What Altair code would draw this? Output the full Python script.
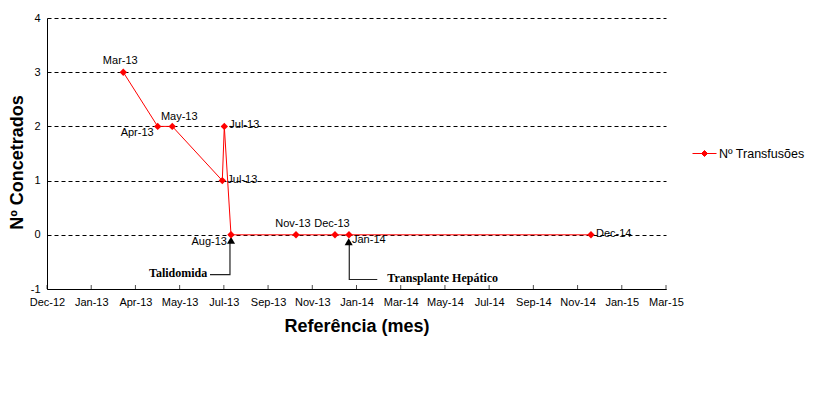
import json
import pandas as pd
import altair as alt

# ---------------- data ----------------
point_labels = ["Mar-13", "Apr-13", "May-13", "Jul-13", "Jul-13",
                "Aug-13", "Nov-13", "Dec-13", "Jan-14", "Dec-14"]
# position on the date axis, in days after the first tick (Dec-12)
point_days = [103.5, 150.2, 170.0, 237.9, 240.6, 249.7, 337.9, 390.8, 409.8, 738.2]
transfusions = [3, 2, 2, 1, 2, 0, 0, 0, 0, 0]
series_name = "Nº Transfusões"

tick_days = [0, 60, 120, 180, 240, 300, 360, 420, 480, 540, 600, 660, 720, 780, 840]
tick_labels = ["Dec-12", "Jan-13", "Apr-13", "May-13", "Jul-13", "Sep-13", "Nov-13",
               "Jan-14", "Mar-14", "May-14", "Jul-14", "Sep-14", "Nov-14", "Jan-15", "Mar-15"]
y_ticks = [-1, 0, 1, 2, 3, 4]

# annotations (event markers)
ann_names = ["Talidomida", "Transplante Hepático"]
ann_text_days = [217.5, 461.8]
ann_text_vals = [-0.714, -0.80]
ann_arrow_days = [249.7, 409.4]
ann_arrow_vals = [-0.10, -0.13]
ann_leader_days = [[221.2, 248.3, 248.3], [448.2, 410.2, 410.2]]
ann_leader_vals = [[-0.733, -0.733, -0.14], [-0.825, -0.825, -0.17]]

# ---------------- tables ----------------
pts = pd.DataFrame({
    "idx": list(range(len(point_days))),
    "day": point_days,
    "val": transfusions,
    "lab": point_labels,
    "serie": [series_name] * len(point_days),
})
ticks_df = pd.DataFrame({"day": tick_days})
ann_text_df = pd.DataFrame({"name": ann_names, "day": ann_text_days, "val": ann_text_vals})
ann_arrow_df = pd.DataFrame({"day": ann_arrow_days, "val": ann_arrow_vals})
leader_rows = []
for k, (ds, vs) in enumerate(zip(ann_leader_days, ann_leader_vals)):
    for j, (d, v) in enumerate(zip(ds, vs)):
        leader_rows.append({"ann": k, "ord": j, "day": d, "val": v})
leader_df = pd.DataFrame(leader_rows)

FONT = "Liberation Sans"
RED = "#FF0000"

xscale = alt.Scale(domain=[0, 840], nice=False, zero=False)
yscale = alt.Scale(domain=[-1, 4], nice=False, zero=False)

label_expr = json.dumps(tick_labels) + "[round(datum.value / 60)]"

x_enc = alt.X("day:Q", scale=xscale, axis=alt.Axis(
    values=tick_days, labelExpr=label_expr, ticks=False, grid=False,
    title="Referência (mes)", titleFont=FONT, titleFontSize=18, titleFontWeight="bold",
    titleColor="black", titleX=309.5, titleY=37, titleBaseline="middle",
    labelFont=FONT, labelFontSize=11, labelColor="black", labelPadding=7,
    domainColor="black", labelFlush=False, labelOverlap=False))
y_enc = alt.Y("val:Q", scale=yscale, axis=alt.Axis(
    values=y_ticks, ticks=False, grid=True, gridColor="black", gridDash=[4, 3],
    gridWidth=1, title="Nº Concetrados", titleFont=FONT, titleFontSize=18,
    titleFontWeight="bold", titleColor="black", titleX=-30, titleY=144,
    titleBaseline="middle", titleAngle=270,
    labelExpr="datum.value < 0 ? '-' + format(-datum.value, 'd') : datum.label",
    labelFont=FONT, labelFontSize=11, labelColor="black", labelPadding=7,
    domainColor="black"))

base = alt.Chart(pts)

line = base.mark_line(strokeWidth=1).encode(
    x=x_enc, y=y_enc, order="idx:Q",
    color=alt.Color("serie:N", scale=alt.Scale(domain=[series_name], range=[RED]),
                    legend=alt.Legend(
                        title=None, orient="none", legendX=645, legendY=123,
                        padding=0, labelFont=FONT, labelFontSize=12.5, labelColor="black",
                        labelOffset=2,
                        symbolType="M-1,0L1,0M-0.25,0L0,-0.25L0.25,0L0,0.25Z",
                        symbolSize=576, symbolStrokeWidth=1,
                        symbolFillColor=RED, symbolStrokeColor=RED)))

points = base.mark_point(shape="diamond", filled=True, size=55, color=RED, opacity=1).encode(
    x="day:Q", y="val:Q")

# label placements (style only)
placements = [
    ([0, 6, 7], dict(align="center", baseline="middle", dx=-3, dy=-11)),
    ([2], dict(align="center", baseline="middle", dx=7, dy=-9)),
    ([1, 5], dict(align="right", baseline="middle", dx=-4, dy=7)),
    ([3, 4, 9], dict(align="left", baseline="middle", dx=5, dy=-1)),
    ([8], dict(align="left", baseline="middle", dx=3, dy=5)),
]
label_layers = []
for idxs, st in placements:
    label_layers.append(
        base.mark_text(font=FONT, fontSize=11, color="black", **st).encode(
            x="day:Q", y="val:Q", text="lab:N"
        ).transform_filter(alt.FieldOneOfPredicate(field="idx", oneOf=idxs))
    )

axis_ticks = alt.Chart(ticks_df).mark_tick(
    orient="vertical", size=4, thickness=1, color="black", yOffset=-2
).encode(x="day:Q", y=alt.datum(-1))

leaders = alt.Chart(leader_df).mark_line(color="#222222", strokeWidth=1.2).encode(
    x="day:Q", y="val:Q", detail="ann:N", order="ord:Q")

arrows = alt.Chart(ann_arrow_df).mark_point(
    shape="triangle-up", filled=True, size=65, color="black", opacity=1
).encode(x="day:Q", y="val:Q")

ann_left = alt.Chart(ann_text_df).mark_text(
    font="Liberation Serif", fontSize=12, fontWeight="bold", color="black",
    align="right", baseline="middle"
).encode(x="day:Q", y="val:Q", text="name:N").transform_filter(
    alt.FieldOneOfPredicate(field="name", oneOf=[ann_names[0]]))
ann_right = alt.Chart(ann_text_df).mark_text(
    font="Liberation Serif", fontSize=12, fontWeight="bold", color="black",
    align="left", baseline="middle"
).encode(x="day:Q", y="val:Q", text="name:N").transform_filter(
    alt.FieldOneOfPredicate(field="name", oneOf=[ann_names[1]]))

chart = alt.layer(
    line, axis_ticks, leaders, arrows, points, *label_layers, ann_left, ann_right
).properties(
    width=619, height=271,
    padding={"left": 39, "top": 10, "right": 160, "bottom": 106},
    autosize=alt.AutoSizeParams(type="none"),
    background="white",
).configure_view(stroke="transparent")

chart.save("out.html", embed_options={"renderer": "svg", "actions": False})
